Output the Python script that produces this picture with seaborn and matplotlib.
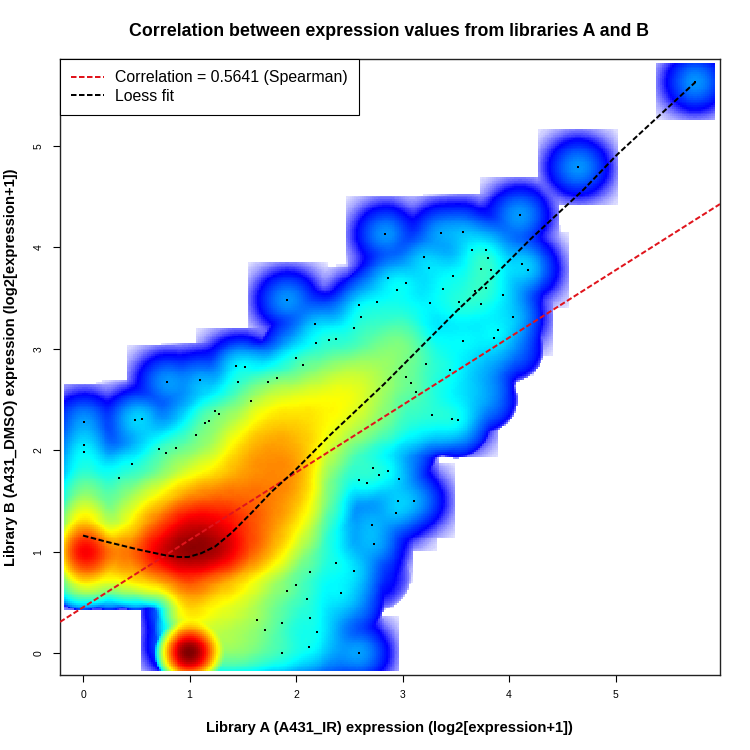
import numpy as np
import matplotlib
matplotlib.use('Agg')
import matplotlib.pyplot as plt
import seaborn as sns

# low density points that R draws as small dots
dot_x = [0.79, 1.10, 1.46, 1.74, 1.82, 1.58, 0.01, 0.49, 0.55, 1.24, 1.28, 1.18, 1.15, 1.06, 0.01, 0.01,
         0.71, 0.78, 0.87, 0.46, 0.34, 2.72, 2.86, 2.78, 2.59, 2.67, 2.71, 2.73, 2.38, 2.54, 2.13, 2.00,
         1.92, 2.42, 2.10, 1.63, 1.87, 2.13, 1.71, 2.20, 2.12, 1.87, 2.59,
         2.84, 2.86, 2.76, 1.92, 2.59, 2.61, 2.18, 2.54, 2.19, 2.31, 2.38, 2.00, 2.07, 1.44, 1.52,
         4.10, 3.36, 3.57, 3.65, 3.78, 3.80, 3.20, 3.25, 3.74, 3.83, 4.12, 4.18, 3.47, 3.03, 2.95,
         3.38, 3.78, 3.68, 3.94, 3.26, 3.53, 3.74, 3.53, 4.04, 3.90, 3.86, 3.57, 3.22, 3.03, 3.08,
         3.13, 3.45, 3.28, 3.46, 3.52, 2.97, 2.96, 3.11, 2.94, 4.65, 5.75]
dot_y = [2.67, 2.69, 2.67, 2.67, 2.71, 2.49, 2.28, 2.30, 2.31, 2.39, 2.36, 2.29, 2.27, 2.15, 2.05, 1.98,
         2.01, 1.97, 2.02, 1.86, 1.73, 1.82, 1.79, 1.76, 1.71, 1.68, 1.26, 1.07, 0.89, 0.81, 0.80, 0.67,
         0.61, 0.59, 0.53, 0.33, 0.30, 0.35, 0.23, 0.21, 0.06, 0.00, 0.00,
         4.13, 3.70, 3.46, 3.48, 3.43, 3.31, 3.24, 3.21, 3.06, 3.09, 3.10, 2.91, 2.84, 2.83, 2.82,
         4.32, 4.14, 4.15, 3.97, 3.97, 3.90, 3.91, 3.80, 3.79, 3.78, 3.84, 3.78, 3.72, 3.65, 3.58,
         3.59, 3.60, 3.57, 3.53, 3.45, 3.46, 3.44, 3.39, 3.31, 3.19, 3.11, 3.08, 2.85, 2.72, 2.66,
         2.57, 2.79, 2.35, 2.31, 2.30, 1.72, 1.50, 1.50, 1.38, 4.79, 5.63]

# points at the lower edge of the cloud, no visible dot
edge_x = [0.92, 0.92, 0.92, 0.00, 0.20, 0.40]
edge_y = [0.08, 0.40, 0.80, 0.80, 0.80, 0.80]
edge_w = [3, 4, 3, 3, 3, 3]

# the heavy spot at (1, 0)
spot_x = 1.0
spot_y = 0.0
spot_w = 175

# colour level on a 0.25 spaced lattice (8 = dark red, 5 = yellow, 3 = cyan)
lattice_x = [0, .25, .5, .75, 1, 1.25, 1.5, 1.75, 2, 2.25, 2.5, 2.75, 3, 3.25, 3.5, 3.75, 4, 4.25]
lattice_y = [0, .25, .5, .75, 1, 1.25, 1.5, 1.75, 2, 2.25, 2.5, 2.75, 3, 3.25, 3.5, 3.75, 4, 4.25]
levels = [
    [0, 0, 0, 0, 4.5, 4.4, 4.4, 3.8, 3.2, 2.6, 1.8, 0, 0, 0, 0, 0, 0, 0],
    [0, 0, 0, 0, 5.0, 4.8, 4.5, 3.8, 3.1, 2.7, 1.5, 0, 0, 0, 0, 0, 0, 0],
    [0, 0, 0, 0, 5.8, 5.3, 4.9, 4.2, 3.4, 2.9, 2.6, 0, 0, 0, 0, 0, 0, 0],
    [5.8, 5.0, 5.7, 6.3, 7.0, 6.3, 5.6, 4.7, 3.6, 3.1, 2.7, 1.5, 0, 0, 0, 0, 0, 0],
    [8.0, 6.4, 6.6, 8.0, 8.5, 8.3, 7.0, 6.0, 4.6, 3.5, 2.4, 1.5, 0, 0, 0, 0, 0, 0],
    [6.0, 4.3, 5.6, 6.9, 7.9, 7.7, 7.0, 6.3, 5.4, 3.8, 2.2, 1.5, 0, 0, 0, 0, 0, 0],
    [4.7, 3.8, 4.8, 5.6, 6.4, 6.7, 6.6, 6.4, 5.9, 4.4, 2.2, 2.0, 0, 0, 0, 0, 0, 0],
    [3.7, 3.1, 3.4, 4.3, 5.1, 5.6, 6.1, 6.3, 6.2, 4.5, 3.2, 2.5, 0, 0, 0, 0, 0, 0],
    [2.5, 1.5, 2.4, 3.3, 4.0, 4.7, 5.8, 6.2, 6.0, 5.1, 4.0, 3.2, 2.6, 0, 0, 0, 0, 0],
    [0, 0, 2.0, 2.0, 3.1, 4.0, 5.0, 5.7, 5.7, 5.4, 4.9, 4.3, 3.6, 3.2, 2.8, 0, 0, 0],
    [0, 0, 0, 0, 2.2, 3.0, 4.0, 4.9, 5.2, 5.3, 5.3, 4.6, 3.8, 3.4, 3.0, 2.6, 0, 0],
    [0, 0, 0, 0, 0, 0, 2.8, 3.2, 3.8, 4.5, 4.9, 4.7, 3.9, 3.4, 2.9, 2.5, 0, 0],
    [0, 0, 0, 0, 0, 0, 0, 0, 2.6, 3.1, 3.5, 4.2, 4.4, 3.4, 3.0, 2.8, 2.3, 0],
    [0, 0, 0, 0, 0, 0, 0, 0, 0, 2.0, 2.5, 3.5, 3.8, 2.9, 2.8, 2.8, 2.2, 0],
    [0, 0, 0, 0, 0, 0, 0, 0, 0, 0, 0, 2.6, 2.9, 2.6, 3.0, 3.1, 2.2, 0],
    [0, 0, 0, 0, 0, 0, 0, 0, 0, 0, 0, 0, 2.2, 2.4, 2.8, 3.3, 2.5, 0],
    [0, 0, 0, 0, 0, 0, 0, 0, 0, 0, 0, 0, 0, 0, 2.0, 2.6, 2.0, 0],
    [0, 0, 0, 0, 0, 0, 0, 0, 0, 0, 0, 0, 0, 0, 0, 0, 1.5, 0],
]

# loess curve and correlation line
loess_x = [0, 0.21, 0.52, 0.77, 0.895, 0.99, 1.11, 1.24, 1.40, 1.58, 1.77, 1.99, 2.32, 2.82, 3.52, 3.85, 4.20, 4.70, 5.01, 5.75]
loess_y = [1.158, 1.10, 1.02, 0.964, 0.947, 0.947, 0.984, 1.05, 1.19, 1.38, 1.59, 1.80, 2.15, 2.645, 3.385, 3.71, 4.08, 4.57, 4.91, 5.63]
corr_intercept = 0.45
corr_slope = 0.665

title = 'Correlation between expression values from libraries A and B'
xlabel = 'Library A (A431_IR) expression (log2[expression+1])'
ylabel = 'Library B (A431_DMSO) expression (log2[expression+1])'
legend_labels = ['Correlation = 0.5641 (Spearman)', 'Loess fit']
ticks = [0, 1, 2, 3, 4, 5]

sns.set_style('ticks')
plt.rcParams['font.family'] = ['Liberation Sans', 'DejaVu Sans']
plt.rcParams['text.color'] = 'black'
plt.rcParams['xtick.labelcolor'] = 'black'
plt.rcParams['ytick.labelcolor'] = 'black'

# density like smoothScatter, fine grid, gaussian kernels cut off in a square
NBINS = 330
x_edges = np.linspace(-0.178, 5.935, NBINS + 1)
y_edges = np.linspace(-0.178, 5.82, NBINS + 1)
x_mid = (x_edges[:-1] + x_edges[1:]) / 2
y_mid = (y_edges[:-1] + y_edges[1:]) / 2
gx, gy = np.meshgrid(x_mid, y_mid)
density = np.zeros_like(gx)
CUT = 0.375
SOFT_CUT = 0.33


def add_point(px, py, weight):
    d2 = (gx - px) ** 2 + (gy - py) ** 2
    inside = (np.abs(gx - px) < CUT) & (np.abs(gy - py) < CUT)
    density[inside] += weight * np.exp(-d2[inside] / (2 * 0.11 ** 2))


def add_soft(px, py, weight, sigma):
    # falls to zero at the cut radius, no square edge
    d2 = (gx - px) ** 2 + (gy - py) ** 2
    floor = np.exp(-SOFT_CUT ** 2 / (2 * sigma ** 2))
    bump = (np.exp(-d2 / (2 * sigma ** 2)) - floor) / (1 - floor)
    density[:] += weight * np.clip(bump, 0, None)


for px, py in zip(dot_x, dot_y):
    add_point(px, py, 1.0)
for px, py, w in zip(edge_x, edge_y, edge_w):
    add_point(px, py, w)
add_soft(spot_x, spot_y, spot_w, 0.13)

sig_core = 0.14
for j, ly in enumerate(lattice_y):
    for i, lx in enumerate(lattice_x):
        if levels[j][i] > 0:
            d = (levels[j][i] / 2.16) ** 4
            add_soft(lx, ly, d * 0.0625 / (2 * np.pi * sig_core ** 2), sig_core)

# keep the scale of a single point fixed, the top value is dark red
shade = np.clip(density / 188.0, 0, 1) ** 0.25
cmap = sns.blend_palette(['#FFFFFF', '#0000FF', '#007FFF', '#00FFFF', '#7FFF7F',
                          '#FFFF00', '#FF7F00', '#FF0000', '#7F0000'], n_colors=256, as_cmap=True)

fig = plt.figure(figsize=(7.5, 7.5), dpi=100)
ax = fig.add_axes([60 / 750, 75 / 750, 660 / 750, 616 / 750])
shade = np.where(density > 0, shade, np.nan)
ax.pcolormesh(x_edges, y_edges, shade, cmap=cmap, vmin=0, vmax=1, shading='flat', rasterized=True)

sns.scatterplot(x=dot_x, y=dot_y, color='black', marker='s', s=2.5, linewidth=0, ax=ax, zorder=3)

dash = (0, (2.75, 1.25))
red_line = ax.axline((0, corr_intercept), slope=corr_slope, color='#E0141C', lw=1.44, linestyle=dash, zorder=4)
sns.lineplot(x=loess_x, y=loess_y, sort=False, estimator=None, color='black', lw=1.44, linestyle=dash, ax=ax, zorder=5)
black_line = ax.lines[-1]

ax.set_xlim(-0.216, 5.981)
ax.set_ylim(-0.217, 5.858)
ax.set_xticks(ticks)
ax.set_yticks(ticks)
ax.tick_params(axis='both', length=5, width=0.8, labelsize=7.5, color='black', pad=5.5)
ax.tick_params(axis='y', pad=7)
for lab in ax.get_yticklabels():
    lab.set_rotation(90)
    lab.set_va('center')
for s in ax.spines.values():
    s.set_linewidth(1.0)
    s.set_color('#222222')

fig.text(389 / 750, 1 - 31 / 750, title, ha='center', va='center', fontsize=12.8, fontweight='bold')
fig.text(389 / 750, 1 - 728 / 750, xlabel, ha='center', va='center', fontsize=10.6, fontweight='bold')
fig.text(11 / 750, 1 - 367 / 750, ylabel, ha='center', va='center', rotation=90, fontsize=10.6, fontweight='bold')

leg = ax.legend([red_line, black_line], legend_labels, loc='upper left', bbox_to_anchor=(0, 1), borderaxespad=0,
                fancybox=False, framealpha=1, edgecolor='black', fontsize=11.4, handlelength=2.05,
                handletextpad=0.7, labelspacing=0.2, borderpad=0.72)
leg.get_frame().set_linewidth(0.8)
leg.set_zorder(6)

plt.savefig('out.png', dpi=100)
